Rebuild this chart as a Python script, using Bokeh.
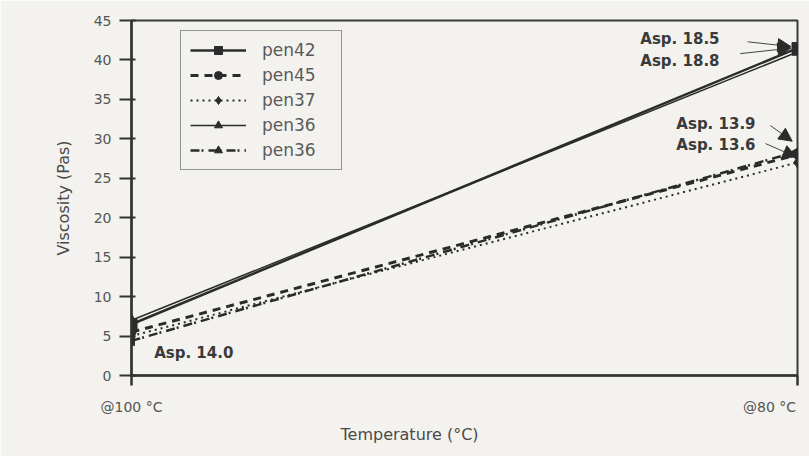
import numpy as np
from bokeh.plotting import figure
from bokeh.models import Range1d, FixedTicker, Label, Arrow, NormalHead, Legend, LegendItem, Title
from bokeh.embed import file_html
from bokeh.resources import INLINE

# ---- data ----
x_pos = [0, 1]
x_labels = ["@100 °C", "@80 °C"]
series_names = ["pen42", "pen45", "pen37", "pen36", "pen36"]
pen42 = [6.5, 41.5]
pen45 = [5.5, 28.0]
pen37 = [5.0, 27.0]
pen36a = [7.0, 41.0]
pen36b = [4.4, 28.4]
y_ticks = list(range(0, 50, 5))
annotations = ["Asp. 18.5", "Asp. 18.8", "Asp. 13.9", "Asp. 13.6", "Asp. 14.0"]

FONT = "DejaVu Sans"
INK = "#2b2b2b"
GREY = "#4a4a4a"
BG = "#f3f2ee"

p = figure(width=809, height=456, output_backend="svg", toolbar_location=None,
           x_range=Range1d(0, 1), y_range=Range1d(0, 45),
           min_border_left=131, min_border_right=12, min_border_top=20, min_border_bottom=81)
p.background_fill_color = BG
p.border_fill_color = BG
p.outline_line_color = "#3a3a3a"
p.outline_line_width = 2
p.grid.visible = False

# y axis
ya = p.yaxis[0]
ya.ticker = FixedTicker(ticks=y_ticks)
ya.axis_label = "Viscosity (Pas)"
ya.axis_label_text_font = FONT
ya.axis_label_text_font_style = "normal"
ya.axis_label_text_font_size = "16px"
ya.axis_label_text_color = GREY
ya.axis_label_standoff = 18
ya.major_label_text_font = FONT
ya.major_label_text_font_size = "14px"
ya.major_label_text_color = "#555555"
ya.major_label_standoff = 8
ya.axis_line_width = 2.5
ya.axis_line_color = "#333333"
ya.major_tick_line_width = 2
ya.major_tick_line_color = "#333333"
ya.major_tick_out = 12
ya.major_tick_in = 4
ya.minor_tick_line_color = None

# x axis (tick labels from x_labels; the last one padded so it sits at the frame edge)
pad = "\u00a0" * 3
xa = p.xaxis[0]
xa.ticker = FixedTicker(ticks=x_pos)
xa.major_label_overrides = {x_pos[0]: x_labels[0], x_pos[1]: x_labels[1] + pad}
xa.major_label_text_font = FONT
xa.major_label_text_font_size = "14px"
xa.major_label_text_color = "#555555"
xa.major_label_standoff = 13
xa.axis_line_width = 2.5
xa.axis_line_color = "#333333"
xa.major_tick_line_width = 2.5
xa.major_tick_line_color = "#333333"
xa.major_tick_out = 10
xa.major_tick_in = 0
xa.minor_tick_line_color = None

p.add_layout(Title(text="Temperature (°C)", align="left", offset=209, standoff=10,
                   text_font=FONT, text_font_size="16px", text_font_style="normal",
                   text_color=GREY), "below")

# series
r1 = p.line(x_pos, pen42, line_color=INK, line_width=2.5)
m1 = p.scatter(x_pos, pen42, marker="square", size=11, color=INK)
r4 = p.line(x_pos, pen36a, line_color=INK, line_width=1.5)
m4 = p.scatter(x_pos, pen36a, marker="triangle", size=11, color=INK)
r5 = p.line(x_pos, pen36b, line_color=INK, line_width=2.5, line_dash="9 2 2 5")
m5 = p.scatter(x_pos, pen36b, marker="triangle", angle=np.pi / 2, size=10, color=INK)
r2 = p.line(x_pos, pen45, line_color=INK, line_width=3, line_dash="8 6")
m2 = p.scatter(x_pos, pen45, marker="circle", size=9, color=INK)
r3 = p.line(x_pos, pen37, line_color=INK, line_width=2, line_dash="2 4")
m3 = p.scatter(x_pos, pen37, marker="diamond", size=11, color=INK)

legend = Legend(items=[
    LegendItem(label=series_names[0], renderers=[r1, m1]),
    LegendItem(label=series_names[1], renderers=[r2, m2]),
    LegendItem(label=series_names[2], renderers=[r3, m3]),
    LegendItem(label=series_names[3], renderers=[r4, m4]),
    LegendItem(label=series_names[4], renderers=[r5, m5]),
], location=(49, 205))
legend.label_text_font = FONT
legend.label_text_font_size = "17px"
legend.label_text_color = "#5a5a5a"
legend.glyph_width = 56
legend.glyph_height = 20
legend.label_width = 70
legend.label_standoff = 16
legend.spacing = 5
legend.padding = 9
legend.margin = 0
legend.border_line_color = "#333333"
legend.border_line_width = 1.5
legend.background_fill_color = BG
legend.background_fill_alpha = 1
p.add_layout(legend)

# annotations
ann_pos = [(0.764, 42.7, "left"), (0.764, 39.9, "left"), (0.937, 31.9, "right"),
           (0.937, 29.2, "right"), (0.034, 2.8, "left")]
for (ax, ay, al), t in zip(ann_pos, annotations):
    p.add_layout(Label(x=ax, y=ay, text=t, text_align=al, text_baseline="middle",
                       text_font=FONT, text_font_size="15px", text_font_style="bold",
                       text_color="#3a3a3a"))

arrows = [(0.925, 42.3, 0.99, 41.7), (0.914, 40.8, 0.99, 41.5),
          (0.959, 31.7, 0.992, 29.7), (0.952, 29.4, 0.998, 27.7)]
for x0, y0, x1, y1 in arrows:
    p.add_layout(Arrow(x_start=x0, y_start=y0, x_end=x1, y_end=y1, line_color="#444444",
                       line_width=1,
                       end=NormalHead(size=13, fill_color="#2b2b2b", line_color="#2b2b2b")))

open("out.html", "w").write(file_html(p, INLINE))
